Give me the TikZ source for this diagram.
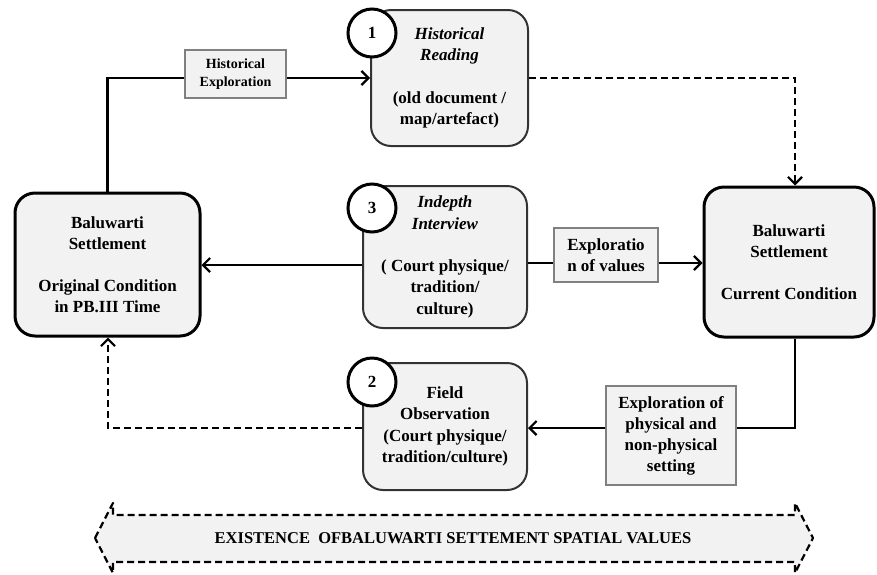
\documentclass[tikz,border=0pt]{standalone}
\usepackage{fontspec}
\setmainfont{Liberation Serif}
\usetikzlibrary{arrows.meta}
\definecolor{boxfill}{HTML}{F2F2F2}
\definecolor{edgegray}{HTML}{333333}
\definecolor{labelgray}{HTML}{808080}
\begin{document}
\begin{tikzpicture}[x=1pt,y=-1pt,
  mainbox/.style={draw=black, line width=3pt, fill=boxfill, rounded corners=20pt,
    align=center, inner sep=0pt, font=\fontsize{17}{21}\selectfont\bfseries},
  stagebox/.style={draw=edgegray, line width=2pt, fill=boxfill, rounded corners=20pt,
    align=center, inner sep=0pt, font=\fontsize{17}{21.3}\selectfont\bfseries},
  labelbox/.style={draw=labelgray, line width=1.4pt, fill=boxfill,
    align=center, inner sep=0pt, font=\fontsize{17}{21}\selectfont\bfseries},
  numcircle/.style={circle, draw=black, line width=3pt, fill=white, minimum size=48pt,
    inner sep=0pt, font=\fontsize{17}{21}\selectfont\bfseries},
  conn/.style={line width=2.7pt, line join=miter},
  tip/.style={-{Straight Barb[length=7pt,width=14pt,line width=2.2pt]}},
  arr/.style={conn, tip},
  dashconn/.style={conn, dash pattern=on 7pt off 4pt},
]
\useasboundingbox (0,0) rectangle (877,574);

% main boxes
\node[mainbox, minimum width=185pt, minimum height=143pt] (orig) at (107.5,264.5)
  {Baluwarti\\Settlement\\[21pt]Original Condition\\in PB.III Time};
\node[mainbox, minimum width=170pt, minimum height=150pt] (curr) at (789,262)
  {Baluwarti\\Settlement\\[21pt]Current Condition};

% stage boxes
\node[stagebox, minimum width=157pt, minimum height=136pt] (hist) at (449.5,78)
  {\textit{Historical}\\\textit{Reading}\\[21pt](old document /\\map/artefact)};
\node[stagebox, minimum width=164pt, minimum height=142pt] (intv) at (445,257)
  {\textit{Indepth}\\\textit{Interview}\\[21pt]( Court physique/\\tradition/\\culture)};
\node[stagebox, minimum width=164pt, minimum height=127pt] (field) at (445,426.5)
  {Field\\Observation\\(Court physique/\\tradition/culture)};

% number circles
\node[numcircle] (n1) at (372,33) {1};
\node[numcircle] (n3) at (372,208) {3};
\node[numcircle] (n2) at (372,382) {2};

% label boxes
\node[labelbox, minimum width=101pt, minimum height=48pt,
  font=\fontsize{14}{18}\selectfont\bfseries] (hexp) at (235.5,74)
  {Historical\\Exploration};
\node[labelbox, minimum width=104pt, minimum height=54pt] (vexp) at (606,255)
  {Exploratio\\n of values};
\node[labelbox, minimum width=130pt, minimum height=99pt] (pexp) at (671,435.5)
  {Exploration of\\physical and\\non-physical\\setting};

% coordinates for bends
\coordinate (a1) at (107.5,78);
\coordinate (a2) at (795,78);
\coordinate (b1) at (795,428);
\coordinate (c1) at (108,428);

% connectors
\draw[conn] (orig.north -| a1) -- (a1) -- (hexp.west |- a1);
\draw[arr] (hexp.east |- a1) -- (hist.west |- a1);
\draw[dashconn, tip] (hist.east |- a2) -- (a2) -- (curr.north -| a2);

\draw[arr] (intv.west |- 0,265) -- (orig.east |- 0,265);
\draw[conn] (intv.east |- 0,263) -- (vexp.west |- 0,263);
\draw[arr] (vexp.east |- 0,263) -- (curr.west |- 0,263);

\draw[conn] (curr.south -| b1) -- (b1) -- (pexp.east |- b1);
\draw[arr] (pexp.west |- b1) -- (field.east |- b1);
\draw[dashconn, tip] (field.west |- c1) -- (c1) -- (orig.south -| c1);

% bottom double arrow
\draw[line width=2.2pt, dash pattern=on 7pt off 4pt, fill=boxfill, line join=round]
  (95,538) -- (113,503) -- (113,515) -- (795,515) -- (795,503) -- (813,538)
  -- (795,573) -- (795,562) -- (113,562) -- (113,573) -- cycle;
\node[font=\fontsize{16.5}{20}\selectfont\bfseries] (exist) at (453,538)
  {EXISTENCE\hspace{0.5em}OFBALUWARTI SETTEMENT SPATIAL VALUES};
\end{tikzpicture}
\end{document}
